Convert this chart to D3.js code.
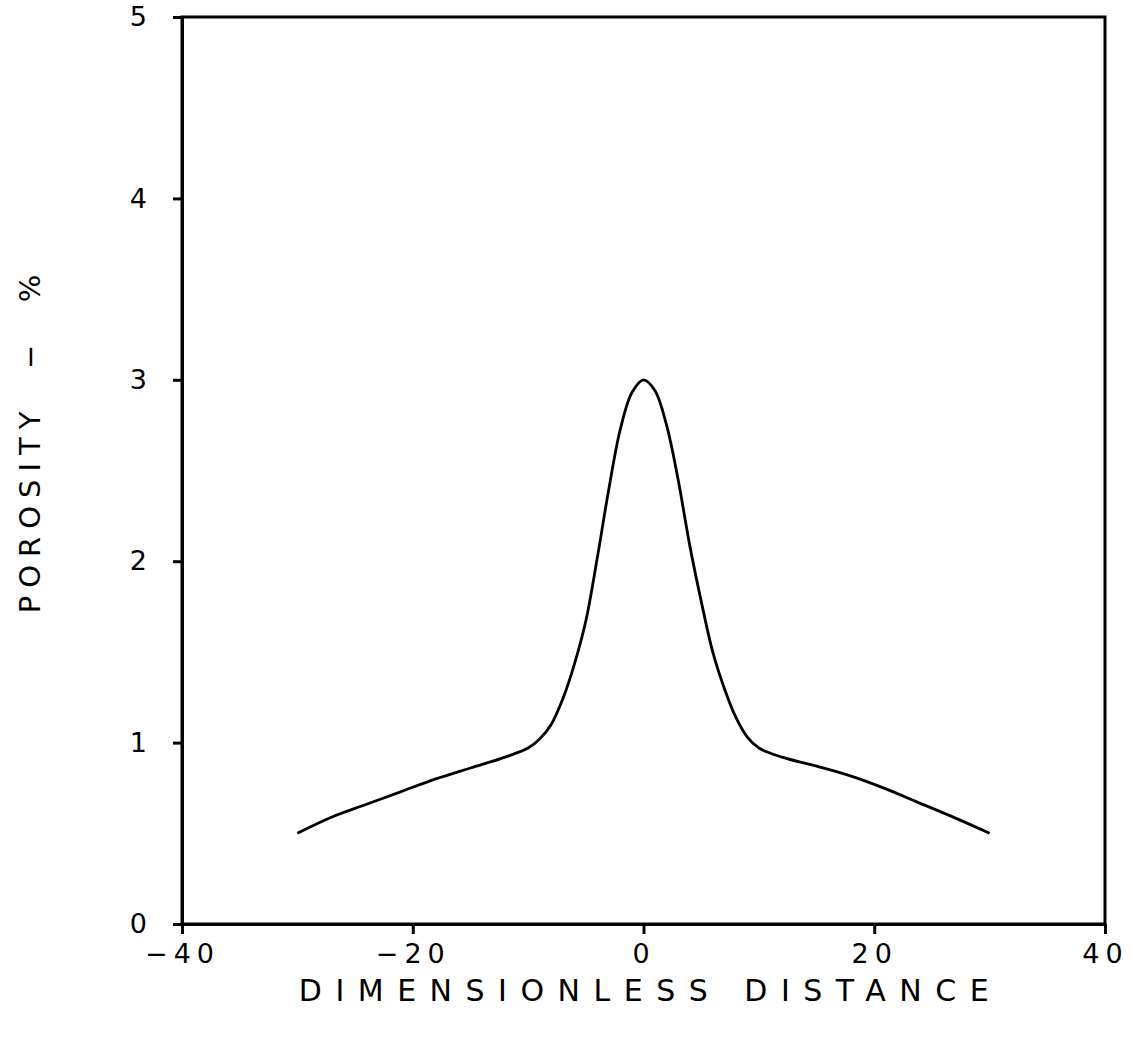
<!DOCTYPE html>
<html lang="en">
  <head>
    <script src="https://d3js.org/d3.v7.min.js"></script>
    <style>
      body {
        margin: 0;
        background: #fff;
      }
      text {
        font-family: "DejaVu Sans", sans-serif;
        fill: #000;
      }
    </style>
  </head>

  <body>
    <svg width="1132" height="1041"></svg>
    <script>
      // curve: distance vs porosity
      var distance = [
        -30, -27, -24, -21, -18, -15, -12, -10, -9, -8, -7, -6, -5, -4, -3, -2,
        -1, 0, 1, 2, 3, 4, 5, 6, 7, 8, 9, 10, 12, 15, 18, 21, 24, 27, 30,
      ];
      var porosity = [
        0.5, 0.59, 0.66, 0.73, 0.8, 0.86, 0.92, 0.97, 1.02, 1.1, 1.24, 1.43,
        1.67, 2.02, 2.4, 2.73, 2.93, 3.0, 2.94, 2.75, 2.45, 2.09, 1.78, 1.5,
        1.3, 1.14, 1.03, 0.97, 0.92, 0.87, 0.815, 0.745, 0.665, 0.585, 0.5,
      ];
      var xTicks = [-40, -20, 0, 20, 40];
      var yTicks = [0, 1, 2, 3, 4, 5];

      var svg = d3.select("svg");
      // plot box in pixels
      var plotL = 182,
        plotR = 1105,
        plotT = 17,
        plotB = 924;

      var x = d3.scaleLinear().domain([-40, 40]).range([plotL, plotR]);
      var y = d3.scaleLinear().domain([0, 5]).range([plotB, plotT]);

      //frame around the plot
      svg
        .append("rect")
        .attr("x", plotL)
        .attr("y", plotT)
        .attr("width", plotR - plotL)
        .attr("height", plotB - plotT)
        .attr("fill", "none")
        .attr("stroke", "#000")
        .attr("stroke-width", 3);

      //bottom axis
      var gx = svg
        .append("g")
        .attr("transform", "translate(0," + plotB + ")")
        .call(
          d3
            .axisBottom(x)
            .tickValues(xTicks)
            .tickSize(10)
            .tickSizeOuter(0)
            .tickPadding(10)
            .tickFormat(function (d) {
              return d < 0 ? "\u2212" + Math.abs(d) : d;
            })
        );

      //left axis
      var gy = svg
        .append("g")
        .attr("transform", "translate(" + plotL + ",0)")
        .call(
          d3
            .axisLeft(y)
            .tickValues(yTicks)
            .tickSize(9)
            .tickSizeOuter(0)
            .tickPadding(26)
            .tickFormat(d3.format("d"))
        );

      [gx, gy].forEach(function (g) {
        g.select(".domain").attr("stroke-width", 3);
        g.selectAll(".tick line").attr("stroke-width", 3);
        g.selectAll(".tick text")
          .attr("font-size", 27)
          .attr("letter-spacing", 6)
          .attr("fill", "#000");
      });
      // the y labels have one digit, no spacing needed there
      gy.selectAll(".tick text").attr("letter-spacing", 0);

      //the curve
      var pts = distance.map(function (d, i) {
        return [d, porosity[i]];
      });
      svg
        .append("path")
        .datum(pts)
        .attr("fill", "none")
        .attr("stroke", "#000")
        .attr("stroke-width", 2.8)
        .attr(
          "d",
          d3
            .line()
            .x(function (d) {
              return x(d[0]);
            })
            .y(function (d) {
              return y(d[1]);
            })
            .curve(d3.curveCatmullRom)
        );

      //axis titles
      svg
        .append("text")
        .attr("x", (plotL + plotR) / 2 + 7)
        .attr("y", 1001)
        .attr("text-anchor", "middle")
        .attr("font-size", 30)
        .attr("letter-spacing", 13.5)
        .text("DIMENSIONLESS DISTANCE");

      svg
        .append("text")
        .attr("transform", "translate(40,440) rotate(-90)")
        .attr("text-anchor", "middle")
        .attr("font-size", 29)
        .attr("letter-spacing", 8)
        .attr("xml:space", "preserve")
        .text("POROSITY  \u2212  %");
    </script>
  </body>
</html>
